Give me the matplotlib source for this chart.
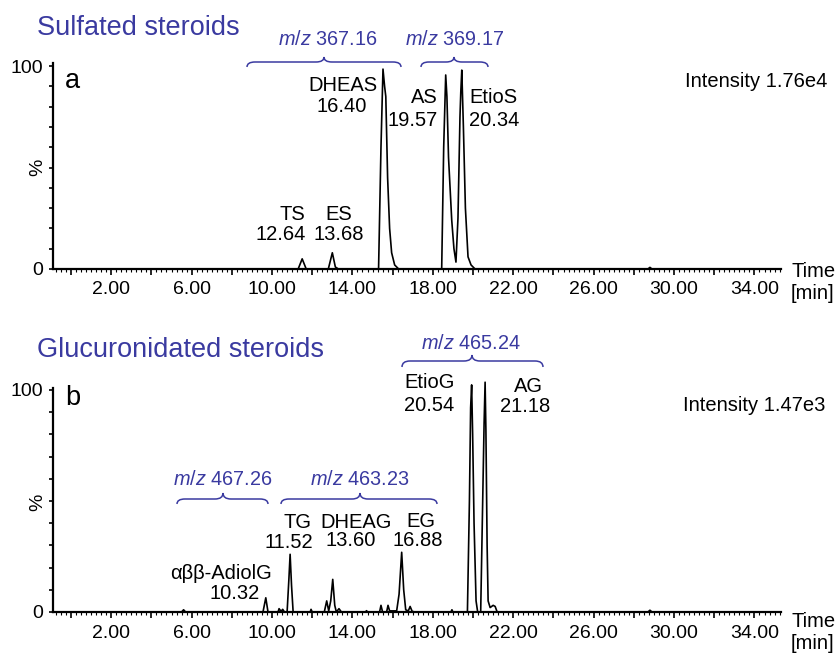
import matplotlib
matplotlib.use('Agg')
import matplotlib.pyplot as plt
from matplotlib.path import Path
from matplotlib.patches import PathPatch
from matplotlib.ticker import MultipleLocator

plt.rcParams['font.family'] = ['Liberation Sans', 'DejaVu Sans']
plt.rcParams['mathtext.fontset'] = 'custom'
plt.rcParams['mathtext.rm'] = 'Liberation Sans'
plt.rcParams['mathtext.it'] = 'Liberation Sans:italic'

# ---------------- data ----------------
# Sulfated steroids trace (time in min, intensity in %)
sulf_time = [-0.9, 11.3, 11.5, 11.7, 12.8, 13.0, 13.15, 13.3,
             15.30, 15.42, 15.52, 15.60, 15.66, 15.75, 15.85, 15.95, 16.1, 16.3,
             18.44, 18.54, 18.64, 18.70, 18.78, 18.94, 19.05, 19.15, 19.25, 19.35,
             19.39, 19.44, 19.52, 19.62, 19.75, 19.9, 20.1,
             28.7, 28.8, 28.9, 35.3]
sulf_int = [0, 0, 5, 0, 0, 8, 1, 0,
            0, 60, 98.5, 90, 85, 45, 20, 8, 2, 0,
            0, 60, 95.6, 85, 55, 24, 10, 3.4, 25, 75,
            87, 98, 70, 30, 6, 2, 0,
            0, 0.8, 0, 0]

# Glucuronidated steroids trace
gluc_time = [-0.9, 5.5, 5.6, 5.7, 9.55, 9.69, 9.8, 10.3, 10.35, 10.45, 10.53, 10.62,
             10.75, 10.84, 10.9, 10.97, 11.05, 11.9, 11.94, 12.0,
             12.6, 12.72, 12.82, 12.92, 13.02, 13.12, 13.2, 13.33, 13.45,
             14.65, 14.7, 14.75, 15.35, 15.42, 15.5, 15.7, 15.77, 15.85,
             16.2, 16.32, 16.45, 16.55, 16.65, 16.78, 16.87, 16.97, 17.1,
             18.9, 18.95, 19.0, 19.72, 19.82, 19.88, 19.93, 19.98, 20.05, 20.15, 20.23,
             20.38, 20.48, 20.55, 20.60, 20.64, 20.70, 20.75, 20.85, 21.0, 21.1, 21.2,
             28.7, 28.8, 28.9, 35.3]
gluc_int = [0, 0, 1, 0, 0, 6.4, 0, 0, 1.5, 0.3, 1.2, 0,
            0, 15, 26, 12, 0, 0, 1.2, 0,
            0, 5, 0.5, 5, 14.7, 3, 0, 1.5, 0,
            0, 0.6, 0, 0, 3, 0, 0, 3, 0.5,
            0.5, 8, 26.9, 10, 1, 0.5, 2.5, 0.3, 0,
            0, 1, 0, 0, 50, 92, 102.3, 80, 40, 5, 0,
            0, 50, 85, 103.5, 82, 30, 5, 2, 3, 2.5, 0,
            0, 0.8, 0, 0]

x_label_values = [2, 6, 10, 14, 18, 22, 26, 30, 34]
x_label_texts = ['2.00', '6.00', '10.00', '14.00', '18.00', '22.00', '26.00', '30.00', '34.00']

sulf_names = ['TS', 'ES', 'DHEAS', 'AS', 'EtioS']
sulf_rts = ['12.64', '13.68', '16.40', '19.57', '20.34']
gluc_names = ['αββ-AdiolG', 'TG', 'DHEAG', 'EG', 'EtioG', 'AG']
gluc_rts = ['10.32', '11.52', '13.60', '16.88', '20.54', '21.18']

# ---------------- layout ----------------
W, H = 835, 653
BLUE = '#3a3aa0'
FS = 14.5
MZFS = 14.3
fig = plt.figure(figsize=(W / 100, H / 100), dpi=100)


def rect(left, right, top, bottom):
    return [left / W, 1 - bottom / H, (right - left) / W, (bottom - top) / H]


XMIN, XMAX = -0.896, 35.32


def style(ax, ytop):
    ax.set_xlim(XMIN, XMAX)
    ax.set_ylim(0, ytop)
    ax.patch.set_alpha(0)
    for s in ['top', 'right']:
        ax.spines[s].set_visible(False)
    ax.spines['left'].set_linewidth(1.6)
    ax.spines['bottom'].set_linewidth(1.6)
    majors = list(range(0, 36, 2))
    ax.set_xticks(majors)
    ax.set_xticklabels([x_label_texts[x_label_values.index(m)] if m in x_label_values else ''
                        for m in majors])
    ax.xaxis.set_minor_locator(MultipleLocator(0.25))
    yt = list(range(0, 101, 10))
    ax.set_yticks(yt)
    ax.set_yticklabels(['0'] + [''] * 9 + ['100'])
    ax.tick_params(axis='x', which='major', direction='out', length=4, width=1.2,
                   labelsize=14, pad=5)
    ax.tick_params(axis='x', which='minor', direction='out', length=2.2, width=0.8)
    ax.tick_params(axis='y', which='major', direction='out', length=3, width=1.2,
                   labelsize=14, pad=4)


ax1 = fig.add_axes(rect(53, 781, 63, 269))
style(ax1, 101.5)
ax1.plot(sulf_time, sulf_int, color='black', lw=1.2, clip_on=False, solid_joinstyle='round')

ax2 = fig.add_axes(rect(53, 781, 388, 612))
style(ax2, 100.9)
ax2.plot(gluc_time, gluc_int, color='black', lw=1.2, clip_on=False, solid_joinstyle='round')

# overlay in pixel coordinates for annotations
ov = fig.add_axes([0, 0, 1, 1], zorder=10)
ov.set_xlim(0, W)
ov.set_ylim(H, 0)
ov.axis('off')
ov.patch.set_alpha(0)


def txt(x, y, s, ha='left', size=FS, color='black', **kw):
    ov.text(x, y, s, ha=ha, va='baseline', fontsize=size, color=color, **kw)


def brace(x0, x1, xt, yh, yend, ytip, r=8):
    verts = [(x0, yend), (x0, yh), (x0 + r, yh), (xt - r, yh), (xt, yh), (xt, ytip),
             (xt, yh), (xt + r, yh), (x1 - r, yh), (x1, yh), (x1, yend)]
    codes = [Path.MOVETO, Path.CURVE3, Path.CURVE3, Path.LINETO, Path.CURVE3, Path.CURVE3,
             Path.CURVE3, Path.CURVE3, Path.LINETO, Path.CURVE3, Path.CURVE3]
    ov.add_patch(PathPatch(Path(verts, codes), fc='none', ec=BLUE, lw=1.1))


MZ = r'$\it{m/z}$ '

# ---- top panel annotations ----
txt(37, 35, 'Sulfated steroids', size=19.5, color=BLUE)
txt(278, 45, MZ + '367.16', size=MZFS, color=BLUE)
txt(405, 45, MZ + '369.17', size=MZFS, color=BLUE)
brace(247, 401, 324, 62, 67, 57)
brace(421, 488, 454, 62, 67, 57)
txt(65, 88, 'a', size=19.5)
txt(305, 220, sulf_names[0], ha='right')
txt(306, 240, sulf_rts[0], ha='right')
txt(339, 220, sulf_names[1], ha='center')
txt(339, 240, sulf_rts[1], ha='center')
txt(343, 91, sulf_names[2], ha='center')
txt(342, 112, sulf_rts[2], ha='center')
txt(438, 103, sulf_names[3], ha='right')
txt(438, 126, sulf_rts[3], ha='right')
txt(469, 103, sulf_names[4])
txt(469, 126, sulf_rts[4])
txt(827, 87, 'Intensity 1.76e4', ha='right')
txt(791, 277, 'Time')
txt(791, 299, '[min]')
ov.text(37.5, 167, '%', rotation=90, ha='center', va='center', fontsize=14)

# ---- bottom panel annotations ----
txt(37, 357, 'Glucuronidated steroids', size=19.5, color=BLUE)
txt(421, 349, MZ + '465.24', size=MZFS, color=BLUE)
brace(402, 543, 472, 361, 367, 355)
txt(173, 485, MZ + '467.26', size=MZFS, color=BLUE)
brace(177, 268, 223, 499, 504, 493)
txt(310, 485, MZ + '463.23', size=MZFS, color=BLUE)
brace(281, 437, 360, 499, 504, 493)
txt(65, 405, 'b', size=19.5)
txt(170, 579, gluc_names[0])
txt(260, 599, gluc_rts[0], ha='right')
txt(311, 528, gluc_names[1], ha='right')
txt(313, 548, gluc_rts[1], ha='right')
txt(356, 528, gluc_names[2], ha='center')
txt(351, 546, gluc_rts[2], ha='center')
txt(421, 527, gluc_names[3], ha='center')
txt(418, 546, gluc_rts[3], ha='center')
txt(404, 388, gluc_names[4])
txt(404, 411, gluc_rts[4])
txt(528, 392, gluc_names[5], ha='center')
txt(525, 412, gluc_rts[5], ha='center')
txt(825, 411, 'Intensity 1.47e3', ha='right')
txt(791, 627, 'Time')
txt(791, 649, '[min]')
ov.text(37.5, 502, '%', rotation=90, ha='center', va='center', fontsize=14)

fig.savefig('out.png', dpi=100)
